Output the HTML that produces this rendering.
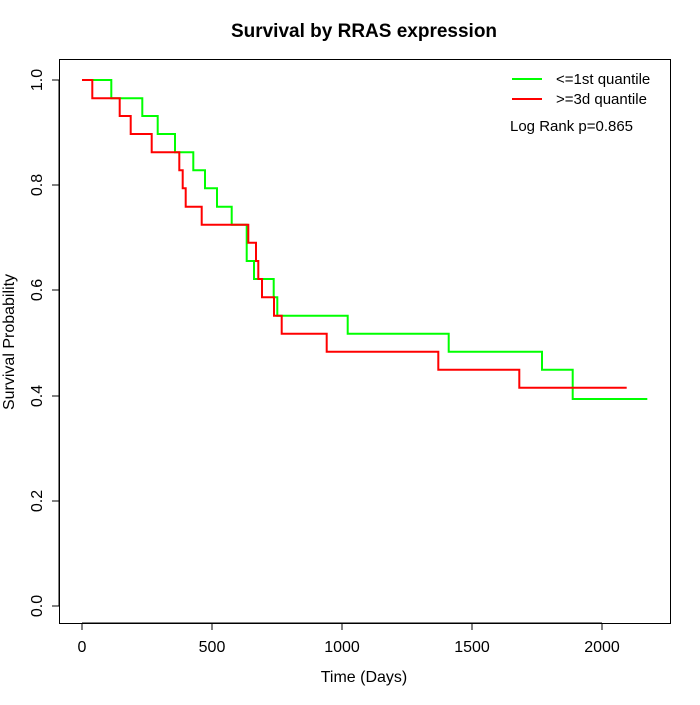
<!DOCTYPE html>
<html><head><style>body{margin:0;background:#fff}</style></head><body>
<svg width="700" height="700" xmlns="http://www.w3.org/2000/svg" font-family="Liberation Sans, sans-serif">
<rect width="700" height="700" fill="#fff"/>
<text x="364" y="37" text-anchor="middle" font-weight="bold" font-size="19">Survival by RRAS expression</text>
<rect x="59.5" y="59.5" width="611" height="564" fill="none" stroke="#000" stroke-width="1"/>
<g stroke="#000">
<line x1="82" y1="623" x2="602" y2="623"/>
<line x1="82" y1="623" x2="82" y2="630"/><line x1="212" y1="623" x2="212" y2="630"/><line x1="342" y1="623" x2="342" y2="630"/><line x1="472" y1="623" x2="472" y2="630"/><line x1="602" y1="623" x2="602" y2="630"/>
<line x1="59" y1="80" x2="59" y2="606"/>
<line x1="52" y1="606" x2="59" y2="606"/><line x1="52" y1="501" x2="59" y2="501"/><line x1="52" y1="396" x2="59" y2="396"/><line x1="52" y1="290" x2="59" y2="290"/><line x1="52" y1="185" x2="59" y2="185"/><line x1="52" y1="80" x2="59" y2="80"/>
</g>
<g font-size="16" text-anchor="middle">
<text x="82" y="652">0</text><text x="212" y="652">500</text><text x="342" y="652">1000</text><text x="472" y="652">1500</text><text x="602" y="652">2000</text>
<text x="364" y="682">Time (Days)</text>
<g transform="translate(42,0)">
<text transform="translate(0,606) rotate(-90)">0.0</text>
<text transform="translate(0,501) rotate(-90)">0.2</text>
<text transform="translate(0,396) rotate(-90)">0.4</text>
<text transform="translate(0,290) rotate(-90)">0.6</text>
<text transform="translate(0,185) rotate(-90)">0.8</text>
<text transform="translate(0,80) rotate(-90)">1.0</text>
</g>
<text transform="translate(14,342) rotate(-90)">Survival Probability</text>
</g>
<polyline fill="none" stroke="#00ff00" stroke-width="2" points="82,80 111.3,80 111.3,98.3 142.3,98.3 142.3,116 157.7,116 157.7,134 175,134 175,152.3 193.3,152.3 193.3,170.3 205,170.3 205,188.3 217,188.3 217,206.7 231.7,206.7 231.7,224.7 246.7,224.7 246.7,261 254,261 254,279 273.7,279 273.7,297.3 277.3,297.3 277.3,315.7 347.7,315.7 347.7,333.7 448.7,333.7 448.7,351.7 542,351.7 542,369.7 572.7,369.7 572.7,399 647.3,399"/>
<polyline fill="none" stroke="#ff0000" stroke-width="2" points="82,80 92.3,80 92.3,98.3 119.7,98.3 119.7,116 130.7,116 130.7,134 151.7,134 151.7,152.3 179.3,152.3 179.3,170.3 182.7,170.3 182.7,188.3 185.7,188.3 185.7,206.7 201.7,206.7 201.7,224.7 248.3,224.7 248.3,242.7 256,242.7 256,261 258.3,261 258.3,279 262,279 262,297.3 274,297.3 274,315.7 281.7,315.7 281.7,333.7 326.7,333.7 326.7,351.7 438.3,351.7 438.3,369.7 519.3,369.7 519.3,387.7 626.7,387.7"/>
<line x1="512" y1="79" x2="542" y2="79" stroke="#00ff00" stroke-width="2"/>
<line x1="512" y1="99" x2="542" y2="99" stroke="#ff0000" stroke-width="2"/>
<g font-size="15">
<text x="556" y="84">&lt;=1st quantile</text>
<text x="556" y="104">&gt;=3d quantile</text>
<text x="510" y="131">Log Rank p=0.865</text>
</g>
</svg>
</body></html>
